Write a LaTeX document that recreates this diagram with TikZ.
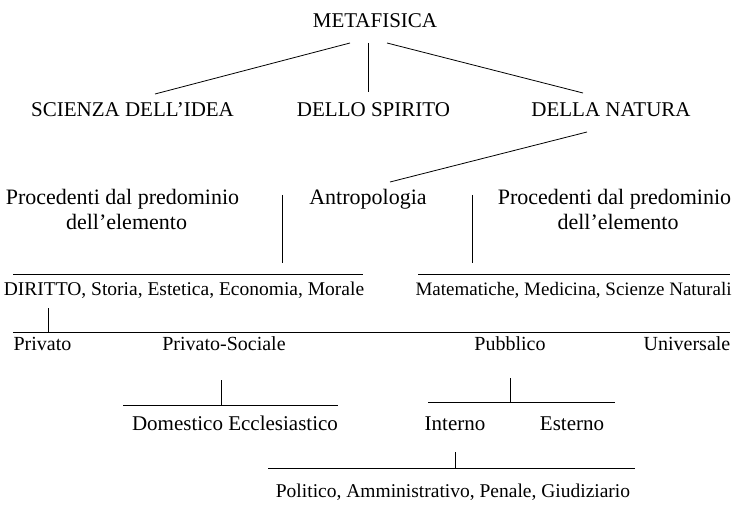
\documentclass[tikz,border=0pt]{standalone}
\usepackage{fontspec}
\setmainfont{Liberation Serif}
\begin{document}
\begin{tikzpicture}[x=1pt,y=-1pt,
  lbl/.style={inner sep=0pt, anchor=base, font=\fontsize{20}{24}\selectfont},
  ttl/.style={lbl, font=\fontsize{21}{25}\selectfont},
  rowtxt/.style={lbl, font=\fontsize{22}{26}\selectfont},
  lng/.style={lbl, font=\fontsize{19.5}{23}\selectfont},
  midtxt/.style={lbl, font=\fontsize{21}{25}\selectfont},
  conn/.style={line width=0.8pt}]
\useasboundingbox (0,0) rectangle (734,513);
% texts
\node[ttl] (meta) at (375,28) {METAFISICA};
\node[ttl] (sci) at (132.5,117) {SCIENZA DELL’IDEA};
\node[ttl] (spi) at (373.5,117) {DELLO SPIRITO};
\node[ttl] (nat) at (611,117) {DELLA NATURA};
\node[rowtxt] (proLa) at (122.5,205) {Procedenti dal predominio};
\node[rowtxt] (proLb) at (126.5,230) {dell’elemento};
\node[rowtxt] (antro) at (368,205) {Antropologia};
\node[rowtxt] (proRa) at (614.5,205) {Procedenti dal predominio};
\node[rowtxt] (proRb) at (618,230) {dell’elemento};
\node[lng] (dir) at (184,296) {DIRITTO, Storia, Estetica, Economia, Morale};
\node[lbl, font=\fontsize{19}{23}\selectfont] (mat) at (573.5,296) {Matematiche, Medicina, Scienze Naturali};
\node[lbl] (priv) at (42.5,350) {Privato};
\node[lbl] (privsoc) at (224,350) {Privato-Sociale};
\node[lbl] (pub) at (510,350) {Pubblico};
\node[lbl] (univ) at (687,350) {Universale};
\node[midtxt] (dom) at (235,430) {Domestico Ecclesiastico};
\node[midtxt] (int) at (455,430) {Interno};
\node[midtxt] (est) at (572,430) {Esterno};
\node[lng] (pol) at (453,497) {Politico, Amministrativo, Penale, Giudiziario};
% connector end points
\coordinate (m1a) at (350,43); \coordinate (m1b) at (155,94);
\coordinate (m2a) at (368,43); \coordinate (m2b) at (368,92);
\coordinate (m3a) at (387,43); \coordinate (m3b) at (583,93);
\coordinate (n1a) at (587,132); \coordinate (n1b) at (390,182);
\coordinate (vLa) at (282,195); \coordinate (vLb) at (282,263);
\coordinate (vRa) at (472,195); \coordinate (vRb) at (472,263);
\coordinate (hLa) at (13,274); \coordinate (hLb) at (363,274);
\coordinate (hRa) at (418,274); \coordinate (hRb) at (730,274);
\coordinate (vPa) at (48,308); \coordinate (vPb) at (48,332);
\coordinate (hAa) at (13,332); \coordinate (hAb) at (730,332);
\coordinate (vSa) at (221,380); \coordinate (vSb) at (221,405);
\coordinate (hSa) at (123,405); \coordinate (hSb) at (338,405);
\coordinate (vUa) at (510,378); \coordinate (vUb) at (510,402);
\coordinate (hUa) at (428,402); \coordinate (hUb) at (615,402);
\coordinate (vIa) at (455,452); \coordinate (vIb) at (455,468);
\coordinate (hIa) at (268,468); \coordinate (hIb) at (635,468);
% connectors
\draw[conn] (m1a) -- (m1b);
\draw[conn] (m2a) -- (m2b);
\draw[conn] (m3a) -- (m3b);
\draw[conn] (n1a) -- (n1b);
\draw[conn] (vLa) -- (vLb);
\draw[conn] (vRa) -- (vRb);
\draw[conn] (hLa) -- (hLb);
\draw[conn] (hRa) -- (hRb);
\draw[conn] (vPa) -- (vPb);
\draw[conn] (hAa) -- (hAb);
\draw[conn] (vSa) -- (vSb);
\draw[conn] (hSa) -- (hSb);
\draw[conn] (vUa) -- (vUb);
\draw[conn] (hUa) -- (hUb);
\draw[conn] (vIa) -- (vIb);
\draw[conn] (hIa) -- (hIb);
\end{tikzpicture}
\end{document}
